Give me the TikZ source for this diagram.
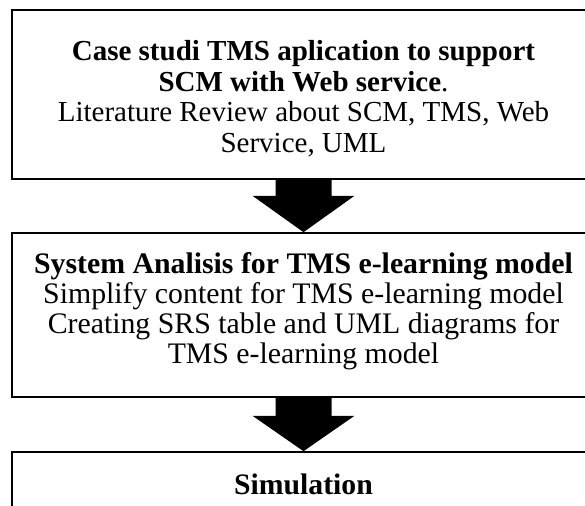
\documentclass[tikz,border=0pt]{standalone}
\usepackage{fontspec}
\setmainfont{Liberation Serif}
\usetikzlibrary{calc}
\begin{document}
\begin{tikzpicture}[x=1pt,y=1pt,
  box/.style={draw, line width=1.6pt, minimum width=583pt, inner sep=0pt},
  txt/.style={align=center, inner sep=0pt, anchor=north},
  blockarrow/.style={fill=black}]
\useasboundingbox (0,0) rectangle (585,505);
\clip (0,0) rectangle (585,505);
% stage boxes (they run past the right and bottom edges)
\node[box, minimum height=169pt] (b1) at (303.5,410.5) {};
\node[box, minimum height=164pt] (b2) at (303.5,190) {};
\node[box, minimum height=64pt, font=\fontsize{29.7}{30.5}\selectfont\bfseries] (b3) at (303.5,21) {Simulation};
% box texts
\node[txt, font=\fontsize{29}{30.5}\selectfont] (t1) at ($(b1.north)+(0,-31)$) {\textbf{Case studi TMS aplication to support}\\
  \textbf{SCM with Web service}.\\
  Literature Review about SCM, TMS, Web\\
  Service, UML};
\node[txt, font=\fontsize{29.8}{30}\selectfont] (t2) at ($(b2.north)+(0,-20)$) {\textbf{System Analisis for TMS e-learning model}\\
  Simplify content for TMS e-learning model\\
  Creating SRS table and UML diagrams for\\
  TMS e-learning model};
% block arrows between the stages
\fill[blockarrow] ($(b1.south)+(-28,0)$) -- ++(0,-16) -- ++(-23,0) -- (b2.north)
  -- ($(b1.south)+(51,-16)$) -- ++(-23,0) -- ($(b1.south)+(28,0)$) -- cycle;
\fill[blockarrow] ($(b2.south)+(-28,0)$) -- ++(0,-18) -- ++(-23,0) -- (b3.north)
  -- ($(b2.south)+(51,-18)$) -- ++(-23,0) -- ($(b2.south)+(28,0)$) -- cycle;
\end{tikzpicture}
\end{document}
